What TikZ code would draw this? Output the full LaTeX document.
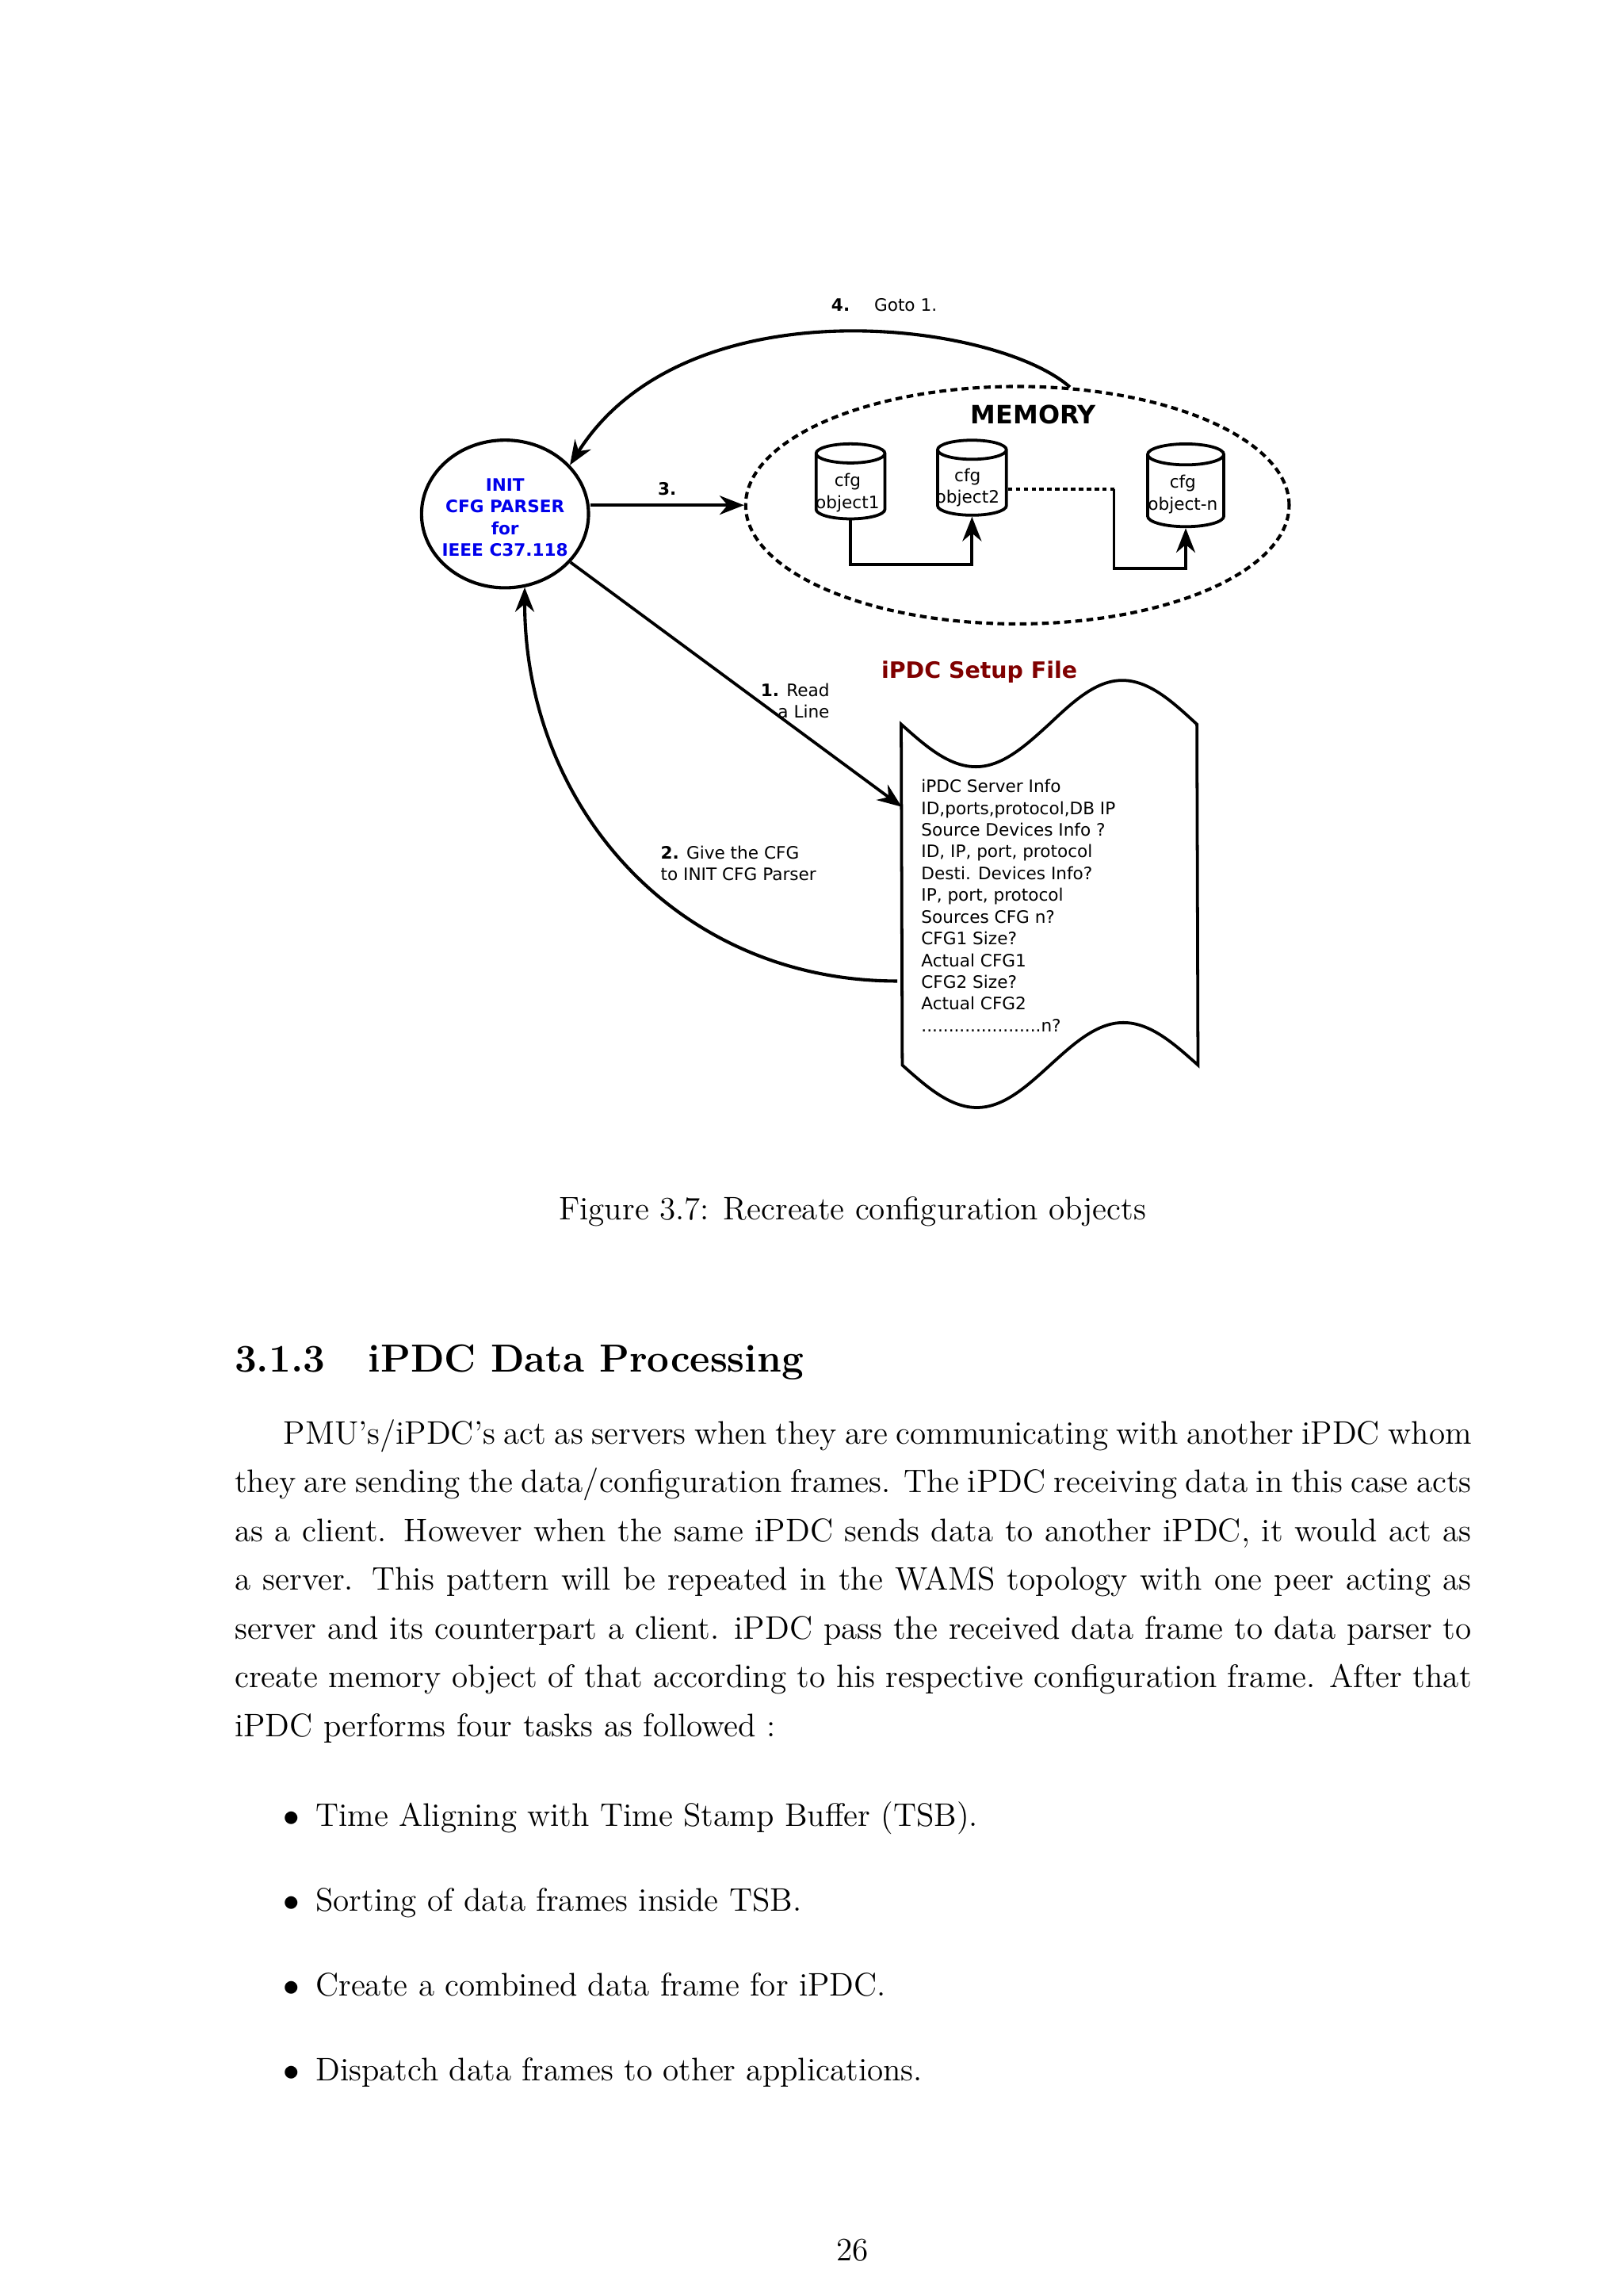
\documentclass[tikz,border=0pt]{standalone}
\usepackage{fontspec}
\usepackage{tikz}
\usetikzlibrary{shapes.geometric, arrows.meta, positioning}
\newfontfamily\dejavu{DejaVu Sans}
\definecolor{initblue}{RGB}{0,0,235}
\definecolor{filered}{RGB}{128,0,0}

\begin{document}
\begin{tikzpicture}[x=0.018936cm, y=-0.018936cm,
    diag/.style={font=\dejavu\fontsize{6.3}{8}\selectfont, inner sep=0pt},
    diagbold/.style={font=\dejavu\bfseries\fontsize{6.3}{8}\selectfont, inner sep=0pt},
    arr/.style={-{Stealth[length=9pt, width=7pt]}, line width=1.1pt},
    cfg node/.style={cylinder, shape border rotate=90, draw, line width=1.1pt, shape aspect=0.3,
        minimum width=0.89cm, minimum height=0.97cm, diag, align=center},
    body/.style={font=\fontsize{12}{17.95}\selectfont, inner sep=0pt}]

    \useasboundingbox (0,0) rectangle (1109,1568);

    % parser and memory
    \node[ellipse, draw, line width=1.2pt, minimum width=2.16cm, minimum height=1.91cm, inner sep=0pt] (init) at (345,351) {};
    \node[diagbold, text=initblue, align=center] (initlbl) at (345,353.5) {INIT\\CFG PARSER\\for\\IEEE C37.118};
    \node[ellipse, draw, line width=1.2pt, dash pattern=on 2.5pt off 1.6pt,
        minimum width=7.03cm, minimum height=3.07cm] (mem) at (695,345) {};
    \node[font=\dejavu\bfseries\fontsize{9.3}{11}\selectfont, inner sep=0pt] (memlbl) at (706,283) {MEMORY};

    \node[cfg node] (c1) at (581,332.5) {\phantom{cfg}\\\phantom{object1}};
    \node[cfg node] (c2) at (664,330) {\phantom{cfg}\\\phantom{object2}};
    \node[cfg node, minimum width=0.985cm, minimum height=1.07cm] (cn) at (810,335.5) {\phantom{cfg}\\\phantom{object-n}};
    \node[diag, align=center] (t1) at (579,336.5) {cfg\\object1};
    \node[diag, align=center] (t2) at (661,333) {cfg\\object2};
    \node[diag, align=center] (tn) at (808,337.5) {cfg\\object-n};

    \draw[arr] (c1.south) -- ++(0,30) -| (c2.south);
    \coordinate (gap) at (761,334);
    \draw[line width=1.1pt, dash pattern=on 1.6pt off 1.3pt] (c2.east |- gap) -- (gap);
    \draw[arr] (gap) -- ++(0,54) -| (cn.south);

    % step 3 and 4
    \draw[arr] (init.east |- mem.west) -- node[diagbold, above=3pt] (three) {3.} (mem.west);
    \draw[arr, line width=1.2pt] (mem.66) .. controls +(-51,-45) and +(79,-125) .. (init.37);
    \node[diag] (goto) at (604,208) {\textbf{4.}\hspace{9pt}Goto 1.};

    % setup file
    \node[font=\dejavu\bfseries\fontsize{8.3}{10}\selectfont, text=filered, inner sep=0pt] (ftitle) at (669,459) {iPDC Setup File};
    \node[minimum width=3.825cm, minimum height=4.393cm, inner sep=0pt] (setup) at (717,611) {};
    \draw[line width=1.1pt] (setup.north west) sin ++(51,29) cos ++(50,-29) sin ++(50,-30) cos ++(51,30)
        -- (setup.south east) sin ++(-51,-29) cos ++(-50,29) sin ++(-50,29) cos ++(-51,-29) -- cycle;
    \node[diag, align=left, anchor=west] (flines) at (629,618.5) {iPDC Server Info\\ID,ports,protocol,DB IP\\Source Devices Info ?\\ID, IP, port, protocol\\Desti. Devices Info?\\IP, port, protocol\\Sources CFG n?\\CFG1 Size?\\Actual CFG1\\CFG2 Size?\\Actual CFG2\\......................n?};

    % step 1 and 2
    \coordinate (readpt) at (616,551);
    \draw[arr] (init) -- (readpt);
    \node[diag, align=right, anchor=east] (read) at (567,478.5) {\textbf{1.} Read\\a Line};
    \coordinate (givept) at (613,670);
    \draw[arr, line width=1.2pt] (givept) .. controls +(-150,0) and +(0,150) .. (init.-75);
    \node[diag, align=left, anchor=west] (give) at (451,589.5) {\textbf{2.} Give the CFG\\to INIT CFG Parser};

    % page text
    \node[body, anchor=base] (caption) at (582.5,833) {Figure 3.7: Recreate configuration objects};
    \node[body, font=\fontsize{14.4}{18}\selectfont\bfseries, anchor=base west] (sec) at (160,937) {3.1.3\hspace{1.1em}iPDC Data Processing};
    \node[body, text width=16cm, align=justify, anchor=base west] (para) at (160,986) {\hspace*{1.5em}PMU's/iPDC's act as servers when they are communicating with another iPDC whom\linebreak
        they are sending the data/configuration frames. The iPDC receiving data in this case acts\linebreak
        as a client. However when the same iPDC sends data to another iPDC, it would act as\linebreak
        a server. This pattern will be repeated in the WAMS topology with one peer acting as\linebreak
        server and its counterpart a client. iPDC pass the received data frame to data parser to\linebreak
        create memory object of that according to his respective configuration frame. After that\linebreak
        iPDC performs four tasks as followed :};
    \foreach \yy/\txt [count=\i] in {1247/{Time Aligning with Time Stamp Buffer (TSB).},
        1305/{Sorting of data frames inside TSB.},
        1363/{Create a combined data frame for iPDC.},
        1421/{Dispatch data frames to other applications.}}
        \node[body, anchor=base west] (item\i) at (193,\yy) {$\bullet$\hspace{6pt}\txt};
    \node[body, anchor=base] (pageno) at (582.5,1544) {26};
\end{tikzpicture}
\end{document}
